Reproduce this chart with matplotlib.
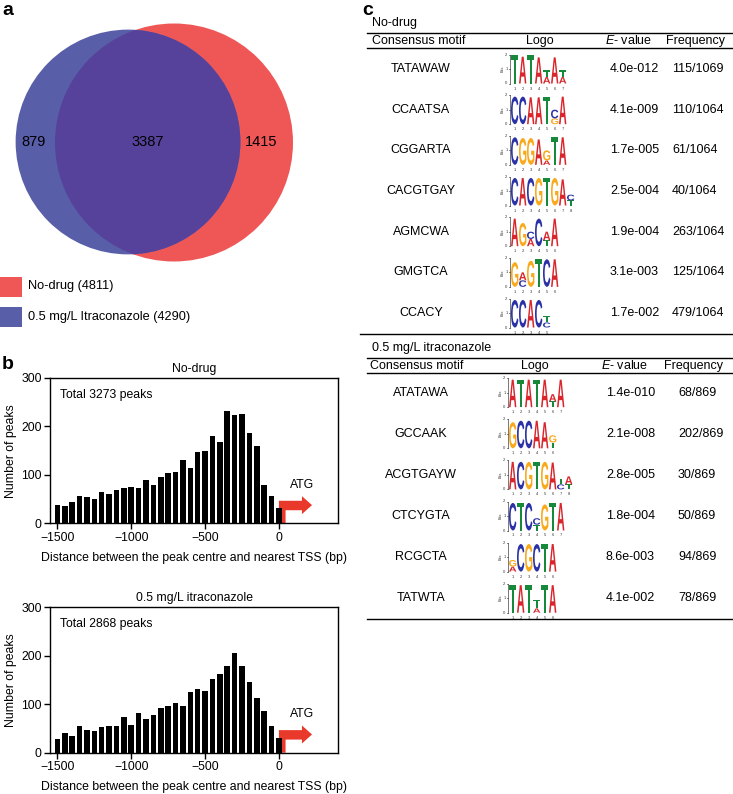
import numpy as np
import matplotlib
matplotlib.use('Agg')
import matplotlib.pyplot as plt
from matplotlib.patches import Circle, Rectangle, Polygon, PathPatch
from matplotlib.textpath import TextPath
from matplotlib.font_manager import FontProperties
from matplotlib.transforms import Affine2D

plt.rcParams['font.family'] = ['Liberation Sans', 'DejaVu Sans']
plt.rcParams['mathtext.fontset'] = 'custom'
plt.rcParams['mathtext.it'] = 'Liberation Sans:italic'
plt.rcParams['mathtext.rm'] = 'Liberation Sans'

W, H = 733, 794

# ---- panel a: venn ----
set_labels = ['No-drug (4811)', '0.5 mg/L Itraconazole (4290)']
set_sizes = [4811, 4290]
venn_counts = [879, 3387, 1415]  # itra only, both, no-drug only

# ---- panel b: peak distance histograms ----
bin_centres = np.arange(-1500, 1, 50)
nodrug_counts = [38, 36, 44, 57, 55, 51, 64, 60, 68, 72, 75, 73, 90, 79, 95, 104,
                 106, 131, 115, 147, 149, 181, 168, 232, 223, 226, 187, 159, 80, 56, 32]
itra_counts = [28, 41, 35, 55, 47, 45, 53, 55, 55, 73, 58, 82, 69, 77, 92, 97,
               103, 97, 125, 132, 127, 151, 163, 178, 205, 179, 145, 112, 86, 55, 30]
hist_titles = ['No-drug', '0.5 mg/L itraconazole']
hist_totals = ['Total 3273 peaks', 'Total 2868 peaks']

# ---- panel c: motif tables ----
motifs_nodrug = ['TATAWAW', 'CCAATSA', 'CGGARTA', 'CACGTGAY', 'AGMCWA', 'GMGTCA', 'CCACY']
evalues_nodrug = ['4.0e-012', '4.1e-009', '1.7e-005', '2.5e-004', '1.9e-004', '3.1e-003', '1.7e-002']
freq_nodrug = ['115/1069', '110/1064', '61/1064', '40/1064', '263/1064', '125/1064', '479/1064']
# each logo: columns, each column letters bottom->top with height in bits
logos_nodrug = [
    [[('T', 1.95)], [('A', 1.85)], [('T', 1.95)], [('A', 1.8)], [('A', 0.45), ('T', 0.45)], [('A', 1.8)], [('A', 0.45), ('T', 0.45)]],
    [[('C', 1.9)], [('C', 1.9)], [('A', 1.85)], [('A', 1.85)], [('T', 1.9)], [('G', 0.4), ('C', 0.6)], [('A', 1.9)]],
    [[('C', 1.9)], [('G', 1.85)], [('G', 1.85)], [('A', 1.75)], [('A', 0.3), ('G', 0.7)], [('T', 1.9)], [('A', 1.9)]],
    [[('C', 1.9)], [('A', 1.9)], [('C', 1.9)], [('G', 1.9)], [('T', 1.9)], [('G', 1.9)], [('A', 1.8)], [('T', 0.35), ('C', 0.4)]],
    [[('A', 1.9)], [('G', 1.6)], [('A', 0.5), ('C', 0.5)], [('C', 1.9)], [('T', 0.4), ('A', 0.6)], [('A', 1.9)]],
    [[('G', 1.7)], [('C', 0.45), ('A', 0.55)], [('G', 1.8)], [('T', 1.9)], [('C', 1.9)], [('A', 1.9)]],
    [[('C', 1.9)], [('C', 1.9)], [('A', 1.9)], [('C', 1.9)], [('C', 0.35), ('T', 0.45)]],
]

motifs_itra = ['ATATAWA', 'GCCAAK', 'ACGTGAYW', 'CTCYGTA', 'RCGCTA', 'TATWTA']
evalues_itra = ['1.4e-010', '2.1e-008', '2.8e-005', '1.8e-004', '8.6e-003', '4.1e-002']
freq_itra = ['68/869', '202/869', '30/869', '50/869', '94/869', '78/869']
logos_itra = [
    [[('A', 1.9)], [('T', 1.9)], [('A', 1.9)], [('T', 1.9)], [('A', 1.9)], [('T', 0.4), ('A', 0.5)], [('A', 1.9)]],
    [[('G', 1.8)], [('C', 1.9)], [('C', 1.9)], [('A', 1.9)], [('A', 1.8)], [('T', 0.4), ('G', 0.5)]],
    [[('A', 1.9)], [('C', 1.9)], [('G', 1.9)], [('T', 1.9)], [('G', 1.9)], [('A', 1.85)], [('C', 0.35), ('T', 0.4)], [('T', 0.35), ('A', 0.55)]],
    [[('C', 1.9)], [('T', 1.9)], [('C', 1.9)], [('T', 0.4), ('C', 0.45)], [('G', 1.8)], [('T', 1.9)], [('A', 1.9)]],
    [[('A', 0.35), ('G', 0.45)], [('C', 1.9)], [('G', 1.9)], [('C', 1.9)], [('T', 1.9)], [('A', 1.9)]],
    [[('T', 1.9)], [('A', 1.9)], [('T', 1.9)], [('A', 0.3), ('T', 0.6)], [('T', 1.9)], [('A', 1.9)]],
]

base_colors = {'A': '#d8262c', 'C': '#2a32a6', 'G': '#f8aa1c', 'T': '#17893b'}
logo_font = FontProperties(family='Liberation Sans', weight='bold')

RED = '#ef5757'
BLUE = '#585ea8'
OVERLAP = '#56429b'
ARROW = '#e8392b'
FS = 8.8

fig = plt.figure(figsize=(W / 100, H / 100), dpi=100)

# overlay axes in pixel coordinates (y down)
ov = fig.add_axes([0, 0, 1, 1])
ov.set_xlim(0, W)
ov.set_ylim(H, 0)
ov.axis('off')
ov.set_facecolor('none')

# panel letters
ov.text(2, 2, 'a', fontsize=14, fontweight='bold', va='top')
ov.text(2, 356, 'b', fontsize=14, fontweight='bold', va='top')
ov.text(362, 2, 'c', fontsize=14, fontweight='bold', va='top')

# ---- venn ----
k = 119 / np.sqrt(set_sizes[0])
r_red = k * np.sqrt(set_sizes[0])
r_blue = k * np.sqrt(set_sizes[1])
red_c = Circle((174, 142.5), r_red, fc=RED, ec='none')
blue_c = Circle((128, 142), r_blue, fc=BLUE, ec='none')
ov.add_patch(red_c)
ov.add_patch(blue_c)
ov_c = Circle((128, 142), r_blue, fc=OVERLAP, ec='none')
ov.add_patch(ov_c)
ov_c.set_clip_path(red_c)
ov.text(33.7, 142, str(venn_counts[0]), fontsize=10.5, ha='center', va='center')
ov.text(147.5, 142, str(venn_counts[1]), fontsize=10.5, ha='center', va='center')
ov.text(261, 142, str(venn_counts[2]), fontsize=10.5, ha='center', va='center')

for i, (lab, col) in enumerate(zip(set_labels, [RED, BLUE])):
    yc = 286.5 + i * 30.5
    ov.add_patch(Rectangle((0, yc - 10), 22, 20, fc=col, ec='none'))
    ov.text(28.5, yc, lab, fontsize=9.2, ha='left', va='center')

# ---- histograms ----
def hist_panel(rect, counts, title, total):
    ax = fig.add_axes(rect)
    ax.bar(bin_centres, counts, width=38, color='black', zorder=3)
    arrow = Polygon([(0, 0), (0, 46.5), (156, 46.5), (156, 56), (224, 37.5),
                     (156, 19), (156, 27), (45, 27), (45, 0)],
                    closed=True, fc=ARROW, ec='none', zorder=2)
    ax.add_patch(arrow)
    ax.text(156, 80, 'ATG', fontsize=FS, ha='center', va='center')
    ax.text(-1480, 265, total, fontsize=FS, ha='left', va='center')
    ax.set_xlim(-1550, 400)
    ax.set_ylim(0, 300)
    ax.set_xticks([-1500, -1000, -500, 0])
    ax.set_yticks([0, 100, 200, 300])
    ax.tick_params(direction='out', length=4, width=1, labelsize=FS, pad=2)
    for s in ax.spines.values():
        s.set_linewidth(1)
    ax.set_title(title, fontsize=FS, pad=4)
    ax.set_ylabel('Number of peaks', fontsize=FS, labelpad=3)
    ax.set_xlabel('Distance between the peak centre and nearest TSS (bp)', fontsize=FS, labelpad=6)
    return ax

hist_panel([50 / W, (H - 523.3) / H, 288 / W, 145.3 / H], nodrug_counts, hist_titles[0], hist_totals[0])
hist_panel([50 / W, (H - 752.7) / H, 288 / W, 145.7 / H], itra_counts, hist_titles[1], hist_totals[1])

# ---- logos ----
POS_W = 8.0
BIT = 14.5

def draw_letter(letter, x, ybot, w, h):
    tp = TextPath((0, 0), letter, size=1, prop=logo_font)
    bb = tp.get_extents()
    tr = Affine2D().translate(-bb.x0, -bb.y0).scale(w / bb.width, -h / bb.height).translate(x, ybot)
    ov.add_patch(PathPatch(tr.transform_path(tp), fc=base_colors[letter], ec='none', lw=0))

def draw_logo(x0, yc, cols):
    y0 = yc + 14.5
    ov.plot([x0, x0], [y0, y0 - 2 * BIT], color='#444444', lw=0.5)
    for b in (0, 1, 2):
        ov.plot([x0 - 1.5, x0], [y0 - b * BIT] * 2, color='#444444', lw=0.5)
        ov.text(x0 - 2.5, y0 - b * BIT, str(b), fontsize=3, ha='right', va='center', color='#333333')
    ov.text(x0 - 7.5, y0 - BIT, 'Bits', fontsize=2.8, rotation=90, ha='center', va='center', color='#333333')
    for i, col in enumerate(cols):
        base = 0.0
        for letter, h in col:
            draw_letter(letter, x0 + 1 + i * POS_W, y0 - base * BIT, POS_W - 0.6, h * BIT)
            base += h
        ov.text(x0 + 1 + (i + 0.5) * POS_W, y0 + 5, str(i + 1), fontsize=3, ha='center', va='center', color='#333333')

def motif_table(title, y_top, motifs, evals, freqs, logos, row0, step, xs):
    x_line0, hdr_motif, hdr_logo, hdr_e, hdr_f, logo_x, e_x, f_x = xs
    ov.text(372, y_top - 10, title, fontsize=9, ha='left', va='center')
    ov.plot([x_line0, W], [y_top, y_top], color='black', lw=1)
    ov.plot([x_line0, W], [y_top + 14.4, y_top + 14.4], color='black', lw=1)
    hy = y_top + 7.3
    ov.text(hdr_motif, hy, 'Consensus motif', fontsize=9, ha='left', va='center')
    ov.text(hdr_logo, hy, 'Logo', fontsize=9, ha='center', va='center')
    ov.text(hdr_e, hy, r'$E$- value', fontsize=9, ha='left', va='center')
    ov.text(hdr_f, hy, 'Frequency', fontsize=9, ha='left', va='center')
    for i in range(len(motifs)):
        yc = row0 + i * step
        ov.text(421, yc, motifs[i], fontsize=9, ha='center', va='center')
        draw_logo(logo_x, yc, logos[i])
        ov.text(e_x, yc, evals[i], fontsize=9, ha='left', va='center')
        ov.text(f_x, yc, freqs[i], fontsize=9, ha='left', va='center')

motif_table('No-drug', 33.3, motifs_nodrug, evalues_nodrug, freq_nodrug, logos_nodrug,
            69, 40.67, (367, 372, 540, 605, 666, 510, 610, 672))
ov.plot([360, W], [334, 334], color='black', lw=1)
motif_table('0.5 mg/L itraconazole', 358.3, motifs_itra, evalues_itra, freq_itra, logos_itra,
            392.7, 41.1, (367, 370, 535, 601, 664, 508, 606, 678))
ov.plot([367, W], [619.3, 619.3], color='black', lw=1)

fig.savefig('out.png', dpi=100)
